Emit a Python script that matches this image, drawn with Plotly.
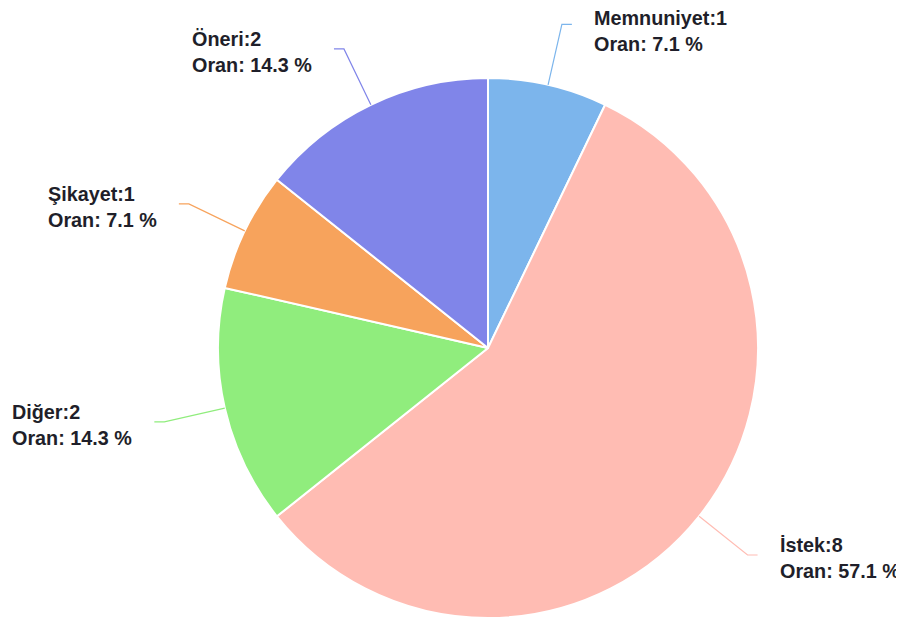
import math
import plotly.graph_objects as go

# ---- data ----
categories = ["Memnuniyet", "İstek", "Diğer", "Şikayet", "Öneri"]
counts = [1, 8, 2, 1, 2]
colors = ["#7cb5ec", "#ffbcb3", "#90ed7d", "#f7a35c", "#8085e9"]

# ---- layout geometry (pixels, in screenshot coords) ----
OFF = 8  # default page body margin
W, H = 904 - OFF, 621 - OFF
CX, CY, R = 488 - OFF, 348 - OFF, 270
ELBOW_R = 332
HSEG = 10
GAP = 20
FONT_SIZE = 19.8
MIN_LABEL_Y = 23  # keep label blocks inside the figure top

def px(x):
    return x / W

def py(y):
    return 1 - y / H

total = sum(counts)

fig = go.Figure(go.Pie(
    labels=categories,
    values=counts,
    marker=dict(colors=colors, line=dict(color="white", width=2)),
    sort=False,
    direction="clockwise",
    rotation=0,
    textinfo="none",
    hoverinfo="label+value+percent",
    showlegend=False,
    domain=dict(x=[px(CX - R), px(CX + R)], y=[max(0, py(CY + R)), py(CY - R)]),
))

shapes = []
annotations = []
cum = 0
for cat, val, col in zip(categories, counts, colors):
    mid = (cum + val / 2) / total * 2 * math.pi
    cum += val
    sx, sy = math.sin(mid), -math.cos(mid)
    x0, y0 = CX + R * sx, CY + R * sy
    x1, y1 = CX + ELBOW_R * sx, CY + ELBOW_R * sy
    right = sx >= 0
    x2 = x1 + (HSEG if right else -HSEG)
    shapes.append(dict(
        type="path", xref="paper", yref="paper",
        path=f"M {px(x0)},{py(y0)} L {px(x1)},{py(y1)} L {px(x2)},{py(y1)}",
        line=dict(color=col, width=1.2),
    ))
    pct = val / total * 100
    annotations.append(dict(
        xref="paper", yref="paper",
        x=px(x2 + (GAP if right else -GAP)), y=py(max(y1 + 3, MIN_LABEL_Y)),
        xanchor="left" if right else "right", yanchor="middle",
        align="left", showarrow=False,
        text=f"<b>{cat}:{val}</b><br><b>Oran: {pct:.1f} %</b>",
        font=dict(family="Liberation Sans, Arial, sans-serif", size=FONT_SIZE, color="#1f1f2a"),
    ))

fig.update_layout(
    width=W, height=H,
    margin=dict(l=0, r=0, t=0, b=0),
    paper_bgcolor="white",
    plot_bgcolor="white",
    shapes=shapes,
    annotations=annotations,
)

fig.write_html("out.html")
